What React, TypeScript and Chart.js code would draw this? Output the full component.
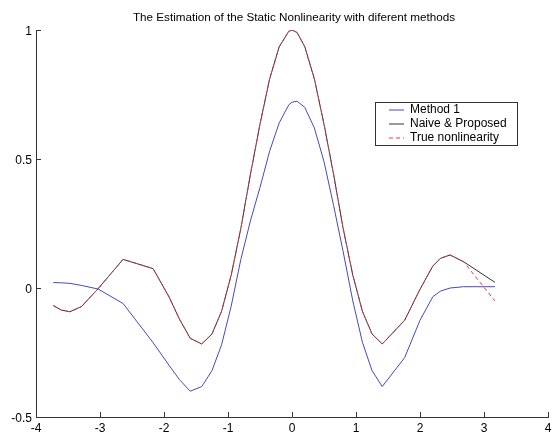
import React, { useEffect, useRef } from "react";
import { Chart, registerables } from "chart.js";

Chart.register(...registerables);

const titleText = "The Estimation of the Static Nonlinearity with diferent methods";
const seriesNames = ["Method 1", "Naive & Proposed", "True nonlinearity"];

const xValues = [
  -3.73, -3.6, -3.47, -3.29, -3.03, -2.64, -2.17, -1.92, -1.76, -1.59, -1.41, -1.25, -1.1,
  -0.95, -0.8, -0.65, -0.5, -0.35, -0.2, -0.05, 0, 0.08, 0.2, 0.35, 0.5, 0.65, 0.8, 0.95,
  1.1, 1.25, 1.41, 1.76, 2.0, 2.2, 2.32, 2.47, 2.68, 3.17,
];

const trueValues = [
  -0.068, -0.086, -0.092, -0.072, -0.003, 0.111, 0.075, -0.035, -0.12, -0.195, -0.217, -0.178, -0.09,
  0.05, 0.23, 0.44, 0.635, 0.81, 0.935, 0.995, 1.0, 0.99, 0.935, 0.81, 0.635, 0.44, 0.23, 0.05,
  -0.09, -0.178, -0.217, -0.125, -0.005, 0.085, 0.115, 0.128, 0.102, -0.05,
];

const naiveValues = [
  -0.068, -0.086, -0.092, -0.072, -0.003, 0.111, 0.075, -0.035, -0.12, -0.195, -0.217, -0.178, -0.09,
  0.05, 0.23, 0.44, 0.635, 0.81, 0.935, 0.995, 1.0, 0.99, 0.935, 0.81, 0.635, 0.44, 0.23, 0.05,
  -0.09, -0.178, -0.217, -0.125, -0.005, 0.085, 0.115, 0.128, 0.102, 0.022,
];

const method1Values = [
  0.021, 0.02, 0.018, 0.01, -0.004, -0.06, -0.212, -0.3, -0.355, -0.4, -0.382, -0.32, -0.22,
  -0.07, 0.11, 0.26, 0.39, 0.53, 0.64, 0.71, 0.72, 0.724, 0.7, 0.62, 0.49, 0.32, 0.14, -0.05,
  -0.21, -0.32, -0.382, -0.27, -0.125, -0.034, -0.012, 0.0, 0.005, 0.005,
];

const xTickValues = [-4, -3, -2, -1, 0, 1, 2, 3, 4];
const xTickLabels = ["-4", "-3", "-2", "-1", "0", "1", "2", "3", "4"];
const yTickValues = [-0.5, 0, 0.5, 1];
const yTickLabels = ["-0.5", "0", "0.5", "1"];

const FONT = "'Liberation Sans', Arial, sans-serif";
const AXIS_COLOR = "#333333";
const COLORS = { method1: "#4848b8", naive: "#303048", truth: "#d83c3c" };

const decorPlugin = {
  id: "decor",
  afterDraw(chart: any) {
    const ctx = chart.ctx;
    const xs = chart.scales.x;
    const ys = chart.scales.y;
    const area = chart.chartArea;
    ctx.save();
    // inward tick marks
    ctx.strokeStyle = AXIS_COLOR;
    ctx.lineWidth = 1;
    ctx.beginPath();
    xTickValues.forEach((v) => {
      const px = Math.round(xs.getPixelForValue(v)) + 0.5;
      ctx.moveTo(px, area.bottom);
      ctx.lineTo(px, area.bottom - 5);
    });
    yTickValues.forEach((v) => {
      const py = Math.round(ys.getPixelForValue(v)) + 0.5;
      ctx.moveTo(area.left, py);
      ctx.lineTo(area.left + 5, py);
    });
    ctx.stroke();

    // tick labels
    ctx.fillStyle = "#000";
    ctx.font = `12px ${FONT}`;
    ctx.textAlign = "center";
    ctx.textBaseline = "alphabetic";
    xTickValues.forEach((v, i) => {
      ctx.fillText(xTickLabels[i], xs.getPixelForValue(v), 432);
    });
    ctx.textAlign = "right";
    yTickValues.forEach((v, i) => {
      ctx.fillText(yTickLabels[i], area.left - 4, ys.getPixelForValue(v) + 4.5);
    });

    // title
    ctx.font = `11.7px ${FONT}`;
    ctx.textAlign = "center";
    ctx.fillText(titleText, 294, 21);

    // legend
    const bx = 375.5, by = 102.5, bw = 142, bh = 43;
    ctx.fillStyle = "#fff";
    ctx.fillRect(bx, by, bw, bh);
    ctx.strokeStyle = AXIS_COLOR;
    ctx.strokeRect(bx, by, bw, bh);
    const rows = [109.5, 123.5, 137.5];
    const cols = [COLORS.method1, COLORS.naive, COLORS.truth];
    const dashes = [[], [], [4, 3]];
    ctx.font = `12px ${FONT}`;
    ctx.textAlign = "left";
    ctx.textBaseline = "middle";
    seriesNames.forEach((name, i) => {
      ctx.strokeStyle = cols[i];
      ctx.setLineDash(dashes[i]);
      ctx.beginPath();
      ctx.moveTo(389, rows[i] + 0.5);
      ctx.lineTo(404, rows[i] + 0.5);
      ctx.stroke();
      ctx.setLineDash([]);
      ctx.fillStyle = "#000";
      ctx.fillText(name, 410, rows[i] + 0.5);
    });
    ctx.restore();
  },
};

export default function App() {
  const ref = useRef<HTMLCanvasElement | null>(null);
  useEffect(() => {
    document.body.style.margin = "0";
    const canvas = ref.current;
    if (!canvas) return;
    const mk = (vals: number[]) => xValues.map((x, i) => ({ x, y: vals[i] }));
    const chart = new Chart(canvas, {
      type: "line",
      data: {
        datasets: [
          {
            label: seriesNames[2],
            data: mk(trueValues),
            borderColor: COLORS.truth,
            borderWidth: 1,
            borderDash: [4, 3],
            pointRadius: 0,
            fill: false,
            tension: 0,
            order: 0,
          },
          {
            label: seriesNames[1],
            data: mk(naiveValues),
            borderColor: COLORS.naive,
            borderWidth: 1,
            pointRadius: 0,
            fill: false,
            tension: 0,
            order: 1,
          },
          {
            label: seriesNames[0],
            data: mk(method1Values),
            borderColor: COLORS.method1,
            borderWidth: 1,
            pointRadius: 0,
            fill: false,
            tension: 0,
            order: 2,
          },
        ],
      },
      options: {
        animation: false,
        responsive: false,
        devicePixelRatio: 1,
        layout: { padding: { left: 0, right: 6, top: 30, bottom: 0 } },
        plugins: { legend: { display: false }, title: { display: false }, tooltip: { enabled: false } },
        scales: {
          x: {
            type: "linear",
            min: -4,
            max: 4,
            afterFit: (s: any) => { s.height = 16; },
            grid: { display: false },
            border: { display: true, color: AXIS_COLOR, width: 1 },
            ticks: { display: false },
          },
          y: {
            type: "linear",
            min: -0.5,
            max: 1,
            afterFit: (s: any) => { s.width = 36; },
            grid: { display: false },
            border: { display: true, color: AXIS_COLOR, width: 1 },
            ticks: { display: false },
          },
        },
      },
      plugins: [decorPlugin],
    } as any);
    return () => chart.destroy();
  }, []);
  return <canvas ref={ref} width={554} height={433} style={{ display: "block" }} />;
}
